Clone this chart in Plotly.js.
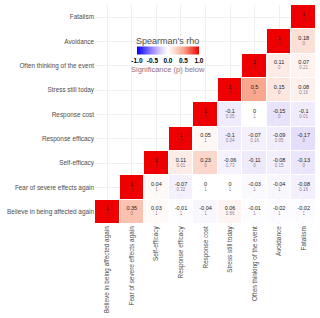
<!DOCTYPE html>
<html><head><meta charset="utf-8">
<script src="https://cdn.plot.ly/plotly-3.0.1.min.js"></script>
<style>html,body{margin:0;padding:0;background:#fff}#chart{width:320px;height:318px}</style>
</head><body><div id="chart"></div>
<script>
var vars = ["Believe in being affected again","Fear of severe effects again","Self-efficacy","Response efficacy","Response cost","Stress still today","Often thinking of the event","Avoidance","Fatalism"];
var rho = [
  [1, 0.35, 0.03, -0.01, -0.04, 0.06, -0.01, -0.02, -0.02],
  [null, 1, 0.04, -0.07, 0, 0, -0.03, -0.04, -0.08],
  [null, null, 1, 0.11, 0.23, -0.06, -0.11, -0.08, -0.13],
  [null, null, null, 1, 0.05, -0.1, -0.07, -0.09, -0.17],
  [null, null, null, null, 1, -0.1, 0, -0.15, -0.1],
  [null, null, null, null, null, 1, 0.5, 0.15, 0.08],
  [null, null, null, null, null, null, 1, 0.11, 0.07],
  [null, null, null, null, null, null, null, 1, 0.18],
  [null, null, null, null, null, null, null, null, 1]
];
var pval = [
  [0, 0, 1, 1, 1, 0.86, 1, 1, 1],
  [null, 0, 1, 0.32, 1, 1, 1, 1, 0.16],
  [null, null, 0, 0.01, 0, 0.73, 0, 0.15, 0],
  [null, null, null, 0, 1, 0.04, 0.16, 0.05, 0],
  [null, null, null, null, 0, 0.05, 1, 0, 0.01],
  [null, null, null, null, null, 0, 0, 0, 0.16],
  [null, null, null, null, null, null, 0, 0, 0.21],
  [null, null, null, null, null, null, null, 0, 0],
  [null, null, null, null, null, null, null, null, 0]
];
var tickVals = [-1, -0.5, 0, 0.5, 1];
var tickText = ["-1.0", "-0.5", "0.0", "0.5", "1.0"];

var tx = [], ty = [], tr = [], tp = [];
for (var i = 0; i < vars.length; i++) {
  for (var j = 0; j < vars.length; j++) {
    if (rho[i][j] !== null) {
      tx.push(vars[j]); ty.push(vars[i]);
      tr.push(String(rho[i][j])); tp.push(String(pval[i][j]));
    }
  }
}

var ff = 'Liberation Sans, Arial, sans-serif';
var heat = {
  type: 'heatmap', x: vars, y: vars, z: rho, zmin: -1, zmax: 1,
  xgap: 1, ygap: 1, hoverongaps: false,
  colorscale: [[0, '#0000FF'], [0.25, '#A08CFF'], [0.4, '#E0D8FA'], [0.5, '#FFFFFF'], [0.6, '#FBDDD2'], [0.75, '#F8A68E'], [1, '#EE0000']],
  colorbar: {
    orientation: 'h', x: 0.33, xanchor: 'center', y: 0.775, yanchor: 'middle',
    len: 62, lenmode: 'pixels', thickness: 8, outlinewidth: 0, ticks: '',
    tickangle: 0, ticklabelposition: 'outside bottom', xpad: 0, ypad: 0,
    tickvals: tickVals, ticktext: tickText,
    tickfont: {size: 6.5, color: '#000', family: ff, weight: 'bold'}
  }
};
var rhoText = {
  type: 'scatter', mode: 'text', x: tx, y: ty, text: tr, textposition: 'top center',
  textfont: {size: 5.5, color: '#1a1a1a', family: ff},
  hoverinfo: 'skip', showlegend: false
};
var pText = {
  type: 'scatter', mode: 'text', x: tx, y: ty, text: tp, textposition: 'bottom center',
  textfont: {size: 4.5, color: 'rgba(80,50,70,0.65)', family: ff},
  hoverinfo: 'skip', showlegend: false
};

var axisFont = {size: 6.4, color: '#4D4D4D', family: ff};
var layout = {
  width: 320, height: 318,
  margin: {l: 95, r: 4, t: 5, b: 94},
  paper_bgcolor: '#fff', plot_bgcolor: '#fff',
  showlegend: false,
  xaxis: {type: 'category', categoryorder: 'array', categoryarray: vars, tickangle: -90,
    tickfont: axisFont, showgrid: true, gridcolor: '#EFEFEF', gridwidth: 1, zeroline: false, ticks: '', showline: false, fixedrange: true},
  yaxis: {type: 'category', categoryorder: 'array', categoryarray: vars,
    tickfont: axisFont, showgrid: true, gridcolor: '#EFEFEF', gridwidth: 1, zeroline: false, ticks: '', showline: false, fixedrange: true},
  annotations: [{
    xref: 'paper', yref: 'paper', x: 0.33, y: 0.835, xanchor: 'center', yanchor: 'middle',
    text: "Spearman's rho", showarrow: false,
    font: {size: 9, color: '#4D4D4D', family: ff}
  }, {
    xref: 'paper', yref: 'paper', x: 0.33, y: 0.705, xanchor: 'center', yanchor: 'middle',
    text: 'Significance (p) below', showarrow: false,
    font: {size: 7.5, color: '#8E6F80', family: ff}
  }]
};
Plotly.newPlot('chart', [heat, rhoText, pText], layout, {displayModeBar: false, staticPlot: true});
</script>
</body></html>
